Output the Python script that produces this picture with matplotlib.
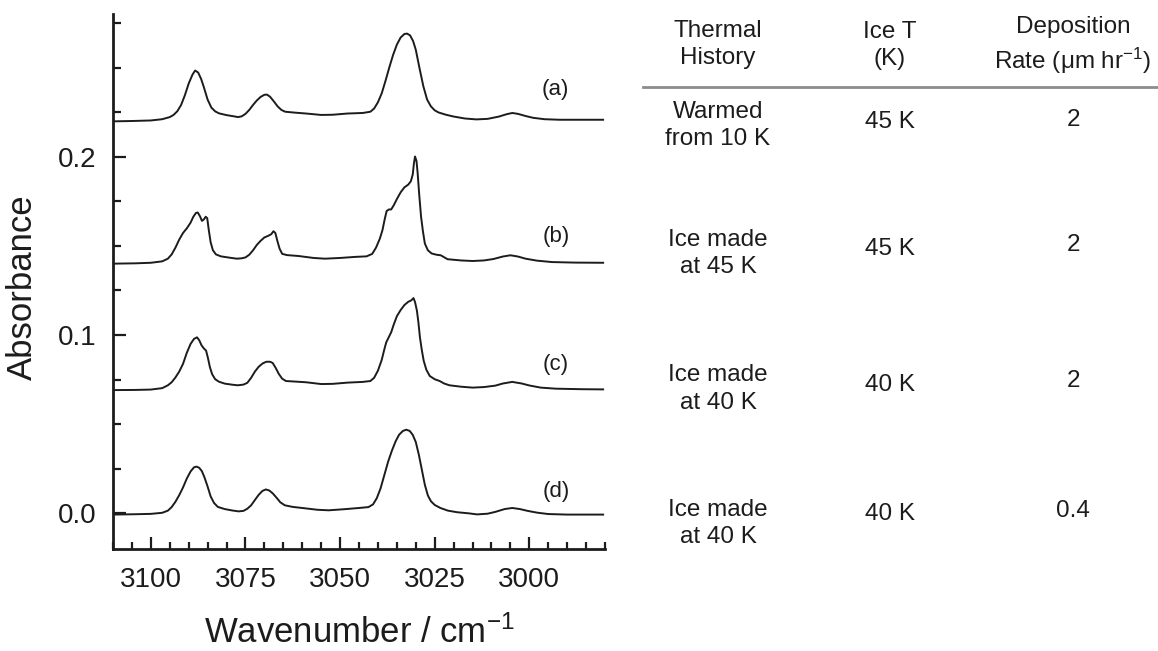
import matplotlib
matplotlib.use("Agg")
import matplotlib.pyplot as plt
from matplotlib.ticker import MultipleLocator, FormatStrFormatter
from matplotlib.lines import Line2D

plt.rcParams['font.family'] = ['Liberation Sans', 'DejaVu Sans']
plt.rcParams['mathtext.fontset'] = 'custom'
plt.rcParams['mathtext.rm'] = 'Liberation Sans'
plt.rcParams['mathtext.it'] = 'Liberation Sans:italic'
plt.rcParams['mathtext.default'] = 'regular'

# ---------------- data ----------------
wn_a = [3110, 3105, 3100, 3097, 3095, 3094, 3093, 3092, 3091, 3090,
        3089, 3088.3, 3087.5, 3086.7, 3086, 3085, 3084, 3083, 3082, 3080,
        3078, 3077, 3076, 3075, 3074, 3073, 3072, 3071, 3070, 3069.3,
        3068.5, 3067.5, 3066.5, 3065.5, 3064.5, 3062, 3059, 3055, 3052, 3048,
        3044, 3042, 3041, 3040, 3039, 3038, 3037, 3036, 3035, 3034,
        3033, 3032.3, 3031.5, 3030.7, 3030, 3029, 3028, 3027, 3026, 3025,
        3024, 3022, 3020, 3017, 3014, 3011, 3008, 3006, 3004.5, 3003,
        3001, 2999, 2996, 2992, 2986, 2980.5]
abs_a = [0.2198, 0.2200, 0.2203, 0.2210, 0.2222, 0.2234, 0.2255, 0.2290, 0.2345, 0.2410,
         0.2460, 0.2483, 0.2472, 0.2435, 0.2390, 0.2320, 0.2275, 0.2254, 0.2243, 0.2233,
         0.2226, 0.2222, 0.2226, 0.2240, 0.2262, 0.2290, 0.2315, 0.2335, 0.2347, 0.2348,
         0.2336, 0.2310, 0.2282, 0.2262, 0.2252, 0.2247, 0.2242, 0.2234, 0.2235, 0.2242,
         0.2245, 0.2252, 0.2270, 0.2305, 0.2355, 0.2425, 0.2500, 0.2570, 0.2628, 0.2668,
         0.2688, 0.2690, 0.2680, 0.2648, 0.2600, 0.2495, 0.2395, 0.2320, 0.2282, 0.2260,
         0.2248, 0.2235, 0.2225, 0.2214, 0.2209, 0.2212, 0.2225, 0.2238, 0.2245, 0.2240,
         0.2228, 0.2218, 0.2210, 0.2207, 0.2207, 0.2207]

wn_b = [3110, 3104, 3100, 3097, 3095.5, 3094.5, 3093.5, 3092.5, 3091.5, 3090.5,
        3089.5, 3088.8, 3088.1, 3087.6, 3087.0, 3086.5, 3086.0, 3085.5, 3085.1, 3084.7,
        3084.2, 3083.6, 3082.8, 3081.5, 3079, 3077.3, 3076, 3075, 3074, 3073,
        3072, 3071, 3070, 3069, 3068.2, 3067.6, 3067.1, 3066.6, 3066.0, 3065.3,
        3064, 3061, 3057, 3054, 3050, 3046, 3043, 3041.5, 3040.5, 3039.5,
        3038.8, 3038.2, 3037.7, 3037.1, 3036.5, 3035.8, 3035.0, 3034.0, 3033.0, 3032.0,
        3031.3, 3030.8, 3030.5, 3030.2, 3029.8, 3029.5, 3029.1, 3028.6, 3028.1, 3027.6,
        3026.8, 3025.8, 3024.5, 3023.4, 3022.5, 3021.6, 3018, 3015, 3012, 3009.5,
        3007, 3005, 3003, 3001, 2998, 2994, 2988, 2980.5]
abs_b = [0.1400, 0.1402, 0.1405, 0.1413, 0.1428, 0.1452, 0.1490, 0.1535, 0.1572, 0.1598,
         0.1630, 0.1662, 0.1684, 0.1687, 0.1665, 0.1640, 0.1648, 0.1663, 0.1655, 0.1590,
         0.1520, 0.1475, 0.1452, 0.1441, 0.1433, 0.1428, 0.1430, 0.1435, 0.1450, 0.1475,
         0.1505, 0.1528, 0.1547, 0.1556, 0.1565, 0.1582, 0.1572, 0.1530, 0.1485, 0.1455,
         0.1448, 0.1443, 0.1432, 0.1428, 0.1432, 0.1438, 0.1441, 0.1455, 0.1490, 0.1540,
         0.1588, 0.1650, 0.1695, 0.1704, 0.1704, 0.1728, 0.1762, 0.1800, 0.1828, 0.1843,
         0.1862, 0.1900, 0.1960, 0.2001, 0.1975, 0.1907, 0.1790, 0.1663, 0.1580, 0.1513,
         0.1475, 0.1457, 0.1450, 0.1447, 0.1436, 0.1425, 0.1418, 0.1415, 0.1418, 0.1426,
         0.1440, 0.1447, 0.1440, 0.1428, 0.1417, 0.1409, 0.1406, 0.1405]

wn_c = [3110, 3104, 3100, 3097, 3095.5, 3094.5, 3093.5, 3092.5, 3091.5, 3090.5,
        3089.5, 3088.6, 3087.8, 3087.2, 3086.6, 3086.0, 3085.4, 3084.9, 3084.4, 3083.8,
        3083.0, 3082, 3080.4, 3078, 3077, 3075.5, 3074.5, 3073.5, 3072.5, 3071.5,
        3070.5, 3069.5, 3068.5, 3067.8, 3067.0, 3066.2, 3065.3, 3064.3, 3062, 3059,
        3055, 3052, 3048, 3044, 3042, 3041, 3040, 3039, 3038.3, 3037.8,
        3037.2, 3036.5, 3035.8, 3035, 3034, 3033, 3032, 3031.2, 3030.6, 3030.2,
        3029.7, 3029.3, 3028.9, 3028.4, 3027.9, 3027.2, 3026.3, 3025, 3023.7, 3022.5,
        3021.1, 3018, 3015, 3012, 3009, 3007, 3004.5, 3002, 3000, 2997,
        2993, 2986, 2980.5]
abs_c = [0.0691, 0.0692, 0.0694, 0.0702, 0.0718, 0.0735, 0.0762, 0.0795, 0.0838, 0.0900,
         0.0950, 0.0978, 0.0987, 0.0970, 0.0942, 0.0925, 0.0912, 0.0870, 0.0820, 0.0780,
         0.0752, 0.0738, 0.0727, 0.0720, 0.0718, 0.0722, 0.0732, 0.0760, 0.0795, 0.0822,
         0.0840, 0.0850, 0.0850, 0.0843, 0.0815, 0.0782, 0.0755, 0.0742, 0.0739, 0.0735,
         0.0725, 0.0726, 0.0733, 0.0737, 0.0742, 0.0760, 0.0800, 0.0860, 0.0920, 0.0959,
         0.0985, 0.1015, 0.1060, 0.1105, 0.1140, 0.1168, 0.1186, 0.1194, 0.1207, 0.1185,
         0.1137, 0.1070, 0.0987, 0.0915, 0.0855, 0.0805, 0.0770, 0.0752, 0.0742, 0.0728,
         0.0718, 0.0710, 0.0705, 0.0708, 0.0716, 0.0728, 0.0737, 0.0728, 0.0717, 0.0705,
         0.0699, 0.0696, 0.0695]

wn_d = [3110, 3104, 3100, 3097, 3095.5, 3094.5, 3093.5, 3092.5, 3091.5, 3090.5,
        3089.5, 3088.6, 3087.9, 3087.2, 3086.5, 3085.8, 3085.0, 3084.2, 3083.3, 3082.3,
        3080.5, 3078.5, 3076.8, 3075.5, 3074.5, 3073.5, 3072.5, 3071.5, 3070.5, 3069.6,
        3068.7, 3067.8, 3066.8, 3065.8, 3064.6, 3062.5, 3060, 3056, 3053, 3049,
        3045, 3042.5, 3041.3, 3040.3, 3039.3, 3038.3, 3037.3, 3036.3, 3035.3, 3034.4,
        3033.4, 3032.5, 3031.6, 3030.8, 3030.0, 3029.2, 3028.4, 3027.6, 3026.8, 3026.0,
        3025.0, 3023.5, 3021.5, 3019, 3016, 3013.8, 3011, 3009, 3006.5, 3004.5,
        3002.5, 3000.5, 2998, 2995, 2990, 2980.5]
abs_d = [-0.0007, -0.0005, -0.0003, 0.0003, 0.0015, 0.0035, 0.0065, 0.0102, 0.0145, 0.0195,
         0.0235, 0.0258, 0.0262, 0.0255, 0.0236, 0.0200, 0.0150, 0.0095, 0.0058, 0.0036,
         0.0024, 0.0016, 0.0011, 0.0014, 0.0026, 0.0045, 0.0075, 0.0104, 0.0126, 0.0134,
         0.0128, 0.0112, 0.0088, 0.0062, 0.0045, 0.0036, 0.0030, 0.0020, 0.0017, 0.0023,
         0.0030, 0.0035, 0.0050, 0.0085, 0.0140, 0.0215, 0.0290, 0.0352, 0.0405, 0.0441,
         0.0462, 0.0469, 0.0462, 0.0440, 0.0400, 0.0330, 0.0245, 0.0160, 0.0100, 0.0068,
         0.0047, 0.0030, 0.0015, 0.0006, 0.0000, -0.0006, -0.0002, 0.0008, 0.0024, 0.0030,
         0.0024, 0.0014, 0.0004, -0.0004, -0.0007, -0.0007]

spectra = [(wn_a, abs_a), (wn_b, abs_b), (wn_c, abs_c), (wn_d, abs_d)]
curve_labels = ["(a)", "(b)", "(c)", "(d)"]
label_abs = [0.2376, 0.1554, 0.0833, 0.0120]
label_wn = 2993

headers = ["Thermal\nHistory", "Ice T\n(K)", "Deposition\nRate ($\\mu$m hr$^{-1}$)"]
thermal_history = ["Warmed\nfrom 10 K", "Ice made\nat 45 K", "Ice made\nat 40 K", "Ice made\nat 40 K"]
ice_T = ["45 K", "45 K", "40 K", "40 K"]
dep_rate = ["2", "2", "2", "0.4"]

# ---------------- figure ----------------
W, H = 1158, 651
fig = plt.figure(figsize=(W / 100, H / 100), dpi=100)
fig.patch.set_facecolor('white')
ax = fig.add_axes([113 / W, 1 - 549 / H, (605 - 113) / W, (549 - 14) / H])

ink = '#1c1c1c'
for wn, ab in spectra:
    ax.plot(wn, ab, color=ink, lw=1.4, solid_joinstyle='round')

for lab, y in zip(curve_labels, label_abs):
    ax.text(label_wn, y, lab, fontsize=16, color=ink, ha='center', va='center')

ax.set_xlim(3110, 2980)
ax.set_ylim(-0.02, 0.28)
ax.xaxis.set_major_locator(MultipleLocator(25))
ax.xaxis.set_minor_locator(MultipleLocator(5))
ax.yaxis.set_major_locator(MultipleLocator(0.1))
ax.yaxis.set_minor_locator(MultipleLocator(0.025))
ax.yaxis.set_major_formatter(FormatStrFormatter('%.1f'))

for s in ['top', 'right']:
    ax.spines[s].set_visible(False)
for s in ['left', 'bottom']:
    ax.spines[s].set_linewidth(2.0)
    ax.spines[s].set_color(ink)

ax.tick_params(axis='both', which='both', direction='in', color=ink, labelcolor=ink)
ax.tick_params(axis='x', which='major', length=9, width=1.6, labelsize=20, pad=13)
ax.tick_params(axis='x', which='minor', length=5, width=1.6)
ax.tick_params(axis='y', which='major', length=9.5, width=1.6, labelsize=20, pad=12)
ax.tick_params(axis='y', which='minor', length=5.5, width=1.6)

ax.set_xlabel("Wavenumber / cm$^{-1}$", fontsize=25, color=ink, labelpad=16)
ax.set_ylabel("Absorbance", fontsize=25, color=ink)
ax.yaxis.set_label_coords(-0.15, 0.49)

# ---------------- table on the right ----------------
col_x = [718, 890, 1073]
header_y = [44.5, 45.5, 46]
row_y = [[125.5, 253.5, 389, 523.5], [122, 249, 385, 514], [120, 245, 381, 511]]
tfs = 17.5
for cx, hy, h in zip(col_x, header_y, headers):
    fig.text(cx / W, 1 - hy / H, h, fontsize=tfs, color=ink, ha='center', va='center',
             linespacing=1.35)
for ci, col in enumerate([thermal_history, ice_T, dep_rate]):
    for ri, txt in enumerate(col):
        fig.text(col_x[ci] / W, 1 - row_y[ci][ri] / H, txt, fontsize=tfs, color=ink,
                 ha='center', va='center', linespacing=1.35)

fig.add_artist(Line2D([643 / W, 1.0], [1 - 87 / H, 1 - 87 / H], color='#8c8c8c', lw=2.0,
                      transform=fig.transFigure))

fig.savefig("out.png", dpi=100, facecolor='white')
